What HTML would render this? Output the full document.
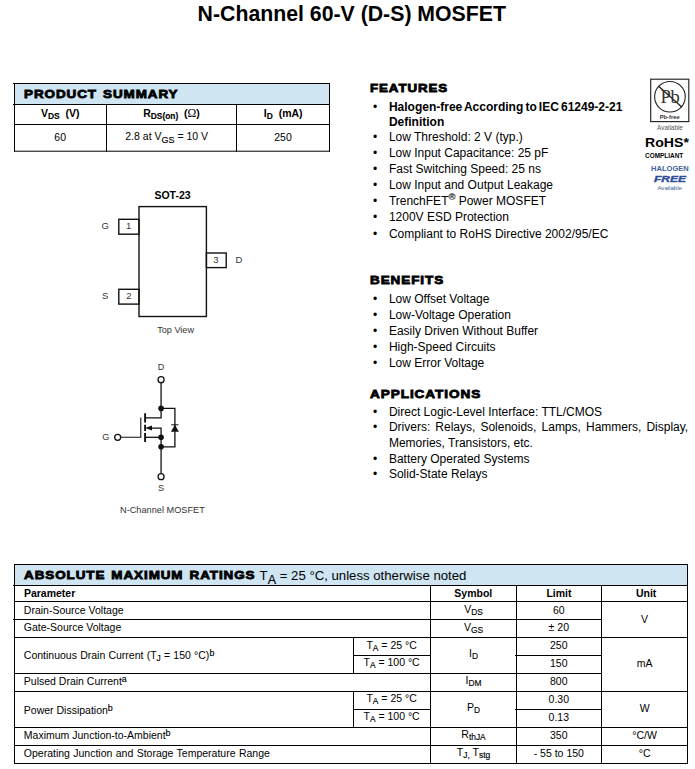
<!DOCTYPE html>
<html lang="en">
<head>
<meta charset="utf-8">
<title>N-Channel 60-V (D-S) MOSFET</title>
<style>
html,body{margin:0;padding:0;background:#fff;}
body{width:695px;height:769px;position:relative;overflow:hidden;font-family:"Liberation Sans",sans-serif;color:#000;}
#page{position:absolute;left:0;top:0;width:695px;height:769px;overflow:hidden;background:#fff;}
svg{position:absolute;left:0;top:0;}
.t{position:absolute;line-height:0;white-space:nowrap;color:#000;}
.b{font-weight:bold;}
.i{font-style:italic;}
.hv{font-weight:bold;-webkit-text-stroke:0.8px #000;letter-spacing:0.8px;word-spacing:1.2px;}
.sb{position:relative;line-height:0;-webkit-text-stroke:0.15px;}
.sf{font-family:"Liberation Serif",serif;font-weight:normal;}
.k2{color:#333;}
.k3{color:#555;}
.bl{color:#41619b;}
.bl2{color:#2f4f9a;-webkit-text-stroke:0.4px #2f4f9a;}
</style>
</head>
<body>
<div id="page">
<svg width="695" height="769" viewBox="0 0 695 769">
<g shape-rendering="crispEdges">
<rect x="15" y="84" width="314" height="20" fill="#cfe5f2"/>
<rect x="13" y="83" width="317" height="1" fill="#000"/>
<rect x="13" y="104" width="317" height="1" fill="#000"/>
<rect x="14" y="124" width="316" height="1" fill="#000"/>
<rect x="14" y="150.7" width="316" height="1" fill="#000" shape-rendering="auto"/>
<rect x="14" y="83" width="1" height="69" fill="#000"/>
<rect x="329" y="83" width="1" height="69" fill="#000"/>
<rect x="106" y="104" width="1" height="48" fill="#000"/>
<rect x="236" y="104" width="1" height="48" fill="#000"/>
<rect x="15" y="565" width="672" height="20" fill="#cfe5f2"/>
<rect x="14" y="564" width="674" height="1" fill="#000"/>
<rect x="13" y="585" width="675" height="1" fill="#000"/>
<rect x="14" y="601" width="674" height="1" fill="#000"/>
<rect x="13" y="619" width="589" height="1" fill="#000"/>
<rect x="14" y="637" width="674" height="1" fill="#000"/>
<rect x="353" y="655" width="78" height="1" fill="#000"/>
<rect x="515" y="655" width="87" height="1" fill="#000"/>
<rect x="14" y="673" width="588" height="1" fill="#000"/>
<rect x="14" y="691" width="674" height="1" fill="#000"/>
<rect x="353" y="709" width="78" height="1" fill="#000"/>
<rect x="515" y="709" width="87" height="1" fill="#000"/>
<rect x="14" y="727" width="674" height="1" fill="#000"/>
<rect x="14" y="745" width="674" height="1" fill="#000"/>
<rect x="14" y="763" width="674" height="1" fill="#000"/>
<rect x="14" y="564" width="1" height="200" fill="#000"/>
<rect x="687" y="564" width="1" height="200" fill="#000"/>
<rect x="430" y="585" width="1" height="179" fill="#000"/>
<rect x="516" y="585" width="1" height="179" fill="#000"/>
<rect x="601" y="585" width="1" height="179" fill="#000"/>
<rect x="353" y="637" width="1" height="37" fill="#000"/>
<rect x="353" y="691" width="1" height="37" fill="#000"/>
</g>
<rect x="139.0" y="206.6" width="67.40" height="109.90" fill="none" stroke="#111" stroke-width="1.4"/>
<rect x="118.8" y="219.3" width="20.20" height="14.90" fill="none" stroke="#111" stroke-width="1.4"/>
<rect x="118.8" y="289.3" width="20.20" height="14.80" fill="none" stroke="#111" stroke-width="1.4"/>
<rect x="206.4" y="253.0" width="19.80" height="14.60" fill="none" stroke="#111" stroke-width="1.4"/>
<g stroke="#111" stroke-width="1.3" fill="none" stroke-linecap="butt">
<circle cx="161.08" cy="379.7" r="3.0" fill="#fff"/>
<circle cx="161.08" cy="476.7" r="3.0" fill="#fff"/>
<circle cx="117.7" cy="437.3" r="3.0" fill="#fff"/>
<path d="M161.08 382.7V417.9H145.1"/>
<path d="M161.08 408.4H174.9V446.8H161.08"/>
<path d="M161.08 473.7V437.3"/>
<path d="M145.1 437.3H161.08"/>
<path d="M150 428.1H161.08V437.3"/>
<path d="M120.7 437.3H140.8V417.6" stroke-width="1.1"/>
<path d="M171.2 424.8H178.5" stroke-width="1.0"/>
<path d="M145.1 413.3V422.5M145.1 424.8V430.9M145.1 433V442" stroke-width="1.9"/>
</g>
<g fill="#111">
<circle cx="161.08" cy="408.4" r="2.8"/><circle cx="161.08" cy="437.3" r="2.8"/><circle cx="161.08" cy="446.8" r="2.8"/>
<path d="M174.9 424.8L178.9 431.8H170.9Z"/>
<path d="M145.0 428.1L152.0 425.6V430.6Z"/>
</g>
<rect x="650.7" y="79.2" width="38.1" height="42.4" fill="none" stroke="#222" stroke-width="1.15"/>
<circle cx="669.95" cy="96.75" r="15.3" fill="none" stroke="#222" stroke-width="1.1"/>
<line x1="658.6" y1="86.3" x2="682.0" y2="107.3" stroke="#222" stroke-width="1.35"/>
</svg>
<div class="t b" style="left:351.80px;top:14px;font-size:21.28px;transform:translateX(-50%);">N-Channel 60-V (D-S) MOSFET</div>
<div class="t hv" style="left:24.00px;top:94px;font-size:11.5px;transform-origin:0 0;transform:scaleX(1.168);">PRODUCT SUMMARY</div>
<div class="t b" style="left:60.20px;top:113px;font-size:10.5px;transform:translateX(-50%);">V<span class="sb" style="font-size:0.8em;top:0.225em">DS</span>&nbsp; (V)</div>
<div class="t b" style="left:171.50px;top:113px;font-size:10.5px;transform:translateX(-50%);">R<span class="sb" style="font-size:0.8em;top:0.225em">DS(on)</span>&nbsp; (<span class="sf" style="font-size:1.12em">Ω</span>)</div>
<div class="t b" style="left:283.20px;top:113px;font-size:10.5px;transform:translateX(-50%);">I<span class="sb" style="font-size:0.8em;top:0.225em">D</span>&nbsp; (mA)</div>
<div class="t" style="left:60.20px;top:137px;font-size:10.5px;transform:translateX(-50%);">60</div>
<div class="t" style="left:166.70px;top:136px;font-size:10.5px;transform:translateX(-50%);">2.8 at V<span class="sb" style="font-size:0.86em;top:0.314em">GS</span> = 10 V</div>
<div class="t" style="left:283.00px;top:137px;font-size:10.5px;transform:translateX(-50%);">250</div>
<div class="t hv" style="left:370.40px;top:88px;font-size:11.5px;transform-origin:0 0;transform:scaleX(1.157);">FEATURES</div>
<div class="t" style="left:375.10px;top:107px;font-size:12px;transform:translateX(-50%);">•</div>
<div class="t b" style="left:388.90px;top:107px;font-size:12px;word-spacing:-1.2px;">Halogen-free According to IEC 61249-2-21</div>
<div class="t b" style="left:388.90px;top:122px;font-size:12px;">Definition</div>
<div class="t" style="left:375.10px;top:137px;font-size:12px;transform:translateX(-50%);">•</div>
<div class="t" style="left:388.90px;top:137px;font-size:12px;">Low Threshold: 2 V (typ.)</div>
<div class="t" style="left:375.10px;top:153px;font-size:12px;transform:translateX(-50%);">•</div>
<div class="t" style="left:388.90px;top:153px;font-size:12px;">Low Input Capacitance: 25 pF</div>
<div class="t" style="left:375.10px;top:169px;font-size:12px;transform:translateX(-50%);">•</div>
<div class="t" style="left:388.90px;top:169px;font-size:12px;">Fast Switching Speed: 25 ns</div>
<div class="t" style="left:375.10px;top:185px;font-size:12px;transform:translateX(-50%);">•</div>
<div class="t" style="left:388.90px;top:185px;font-size:12px;">Low Input and Output Leakage</div>
<div class="t" style="left:375.10px;top:201px;font-size:12px;transform:translateX(-50%);">•</div>
<div class="t" style="left:388.90px;top:201px;font-size:12px;">TrenchFET<span class="sb" style="font-size:0.78em;top:-0.487em">®</span> Power MOSFET</div>
<div class="t" style="left:375.10px;top:217px;font-size:12px;transform:translateX(-50%);">•</div>
<div class="t" style="left:388.90px;top:217px;font-size:12px;">1200V ESD Protection</div>
<div class="t" style="left:375.10px;top:234px;font-size:12px;transform:translateX(-50%);">•</div>
<div class="t" style="left:388.90px;top:234px;font-size:12px;">Compliant to RoHS Directive 2002/95/EC</div>
<div class="t hv" style="left:370.40px;top:280px;font-size:11.5px;transform-origin:0 0;transform:scaleX(1.171);">BENEFITS</div>
<div class="t" style="left:375.10px;top:299px;font-size:12px;transform:translateX(-50%);">•</div>
<div class="t" style="left:388.90px;top:299px;font-size:12px;">Low Offset Voltage</div>
<div class="t" style="left:375.10px;top:315px;font-size:12px;transform:translateX(-50%);">•</div>
<div class="t" style="left:388.90px;top:315px;font-size:12px;">Low-Voltage Operation</div>
<div class="t" style="left:375.10px;top:331px;font-size:12px;transform:translateX(-50%);">•</div>
<div class="t" style="left:388.90px;top:331px;font-size:12px;">Easily Driven Without Buffer</div>
<div class="t" style="left:375.10px;top:347px;font-size:12px;transform:translateX(-50%);">•</div>
<div class="t" style="left:388.90px;top:347px;font-size:12px;">High-Speed Circuits</div>
<div class="t" style="left:375.10px;top:363px;font-size:12px;transform:translateX(-50%);">•</div>
<div class="t" style="left:388.90px;top:363px;font-size:12px;">Low Error Voltage</div>
<div class="t hv" style="left:370.40px;top:394px;font-size:11.5px;transform-origin:0 0;transform:scaleX(1.178);">APPLICATIONS</div>
<div class="t" style="left:375.10px;top:412px;font-size:12px;transform:translateX(-50%);">•</div>
<div class="t" style="left:388.90px;top:412px;font-size:12px;">Direct Logic-Level Interface: TTL/CMOS</div>
<div class="t" style="left:375.10px;top:427px;font-size:12px;transform:translateX(-50%);">•</div>
<div class="t" style="left:388.90px;top:427px;font-size:12px;word-spacing:1.75px;">Drivers: Relays, Solenoids, Lamps, Hammers, Display,</div>
<div class="t" style="left:388.90px;top:443px;font-size:12px;">Memories, Transistors, etc.</div>
<div class="t" style="left:375.10px;top:459px;font-size:12px;transform:translateX(-50%);">•</div>
<div class="t" style="left:388.90px;top:459px;font-size:12px;">Battery Operated Systems</div>
<div class="t" style="left:375.10px;top:474px;font-size:12px;transform:translateX(-50%);">•</div>
<div class="t" style="left:388.90px;top:474px;font-size:12px;">Solid-State Relays</div>
<div class="t k2" style="left:669.90px;top:97px;font-size:18.5px;transform:translateX(-50%);font-family:'Liberation Serif',serif;letter-spacing:-0.5px;">Pb</div>
<div class="t k2 b" style="left:669.70px;top:117px;font-size:5.8px;transform:translateX(-50%);">Pb-free</div>
<div class="t k3" style="left:670.00px;top:128px;font-size:6.4px;transform:translateX(-50%);">Available</div>
<div class="t b" style="left:645.10px;top:143px;font-size:13px;transform-origin:0 0;transform:scaleX(1.085);">RoHS*</div>
<div class="t b" style="left:645.10px;top:156px;font-size:7.2px;transform-origin:0 0;transform:scaleX(0.895);">COMPLIANT</div>
<div class="t b bl" style="left:651.00px;top:169px;font-size:7.1px;transform-origin:0 0;transform:scaleX(1.065);">HALOGEN</div>
<div class="t b i bl2" style="left:653.90px;top:179px;font-size:9.4px;transform-origin:0 0;transform:scaleX(1.28);">FREE</div>
<div class="t bl" style="left:669.70px;top:188px;font-size:6.1px;transform:translateX(-50%);">Available</div>
<div class="t b" style="left:172.50px;top:195px;font-size:10.5px;transform:translateX(-50%);">SOT-23</div>
<div class="t k2" style="left:101.50px;top:226px;font-size:9.5px;">G</div>
<div class="t k2" style="left:128.70px;top:226px;font-size:9.5px;transform:translateX(-50%);">1</div>
<div class="t k2" style="left:102.00px;top:296px;font-size:9.5px;">S</div>
<div class="t k2" style="left:129.00px;top:296px;font-size:9.5px;transform:translateX(-50%);">2</div>
<div class="t k2" style="left:215.80px;top:260px;font-size:9.5px;transform:translateX(-50%);">3</div>
<div class="t k2" style="left:235.60px;top:260px;font-size:9.5px;">D</div>
<div class="t k2" style="left:175.60px;top:330px;font-size:9.1px;transform:translateX(-50%);">Top View</div>
<div class="t k2" style="left:161.05px;top:367px;font-size:9.1px;transform:translateX(-50%);">D</div>
<div class="t k2" style="left:161.00px;top:488px;font-size:9.1px;transform:translateX(-50%);">S</div>
<div class="t k2" style="left:102.20px;top:437px;font-size:9.1px;">G</div>
<div class="t k2" style="left:162.40px;top:510px;font-size:9.2px;transform:translateX(-50%);">N-Channel MOSFET</div>
<div class="t hv" style="left:24.00px;top:575px;font-size:11.5px;transform-origin:0 0;transform:scaleX(1.167);">ABSOLUTE MAXIMUM RATINGS</div>
<div class="t" style="left:259.60px;top:576px;font-size:13.2px;">T<span class="sb" style="font-size:0.95em;top:0.316em">A</span> = 25 °C, unless otherwise noted</div>
<div class="t b" style="left:23.90px;top:593px;font-size:10.5px;">Parameter</div>
<div class="t b" style="left:473.30px;top:593px;font-size:10.5px;transform:translateX(-50%);">Symbol</div>
<div class="t b" style="left:559.00px;top:593px;font-size:10.5px;transform:translateX(-50%);">Limit</div>
<div class="t b" style="left:646.10px;top:593px;font-size:10.5px;transform:translateX(-50%);">Unit</div>
<div class="t" style="left:23.80px;top:610px;font-size:10.5px;">Drain-Source Voltage</div>
<div class="t" style="left:23.80px;top:627px;font-size:10.5px;">Gate-Source Voltage</div>
<div class="t" style="left:23.80px;top:655px;font-size:10.5px;word-spacing:0.3px;">Continuous Drain Current (T<span class="sb" style="font-size:0.8em;top:0.225em">J</span> = 150 °C)<span class="sb" style="font-size:0.85em;top:-0.353em">b</span></div>
<div class="t" style="left:23.80px;top:681px;font-size:10.5px;">Pulsed Drain Current<span class="sb" style="font-size:0.85em;top:-0.353em">a</span></div>
<div class="t" style="left:23.80px;top:710px;font-size:10.5px;">Power Dissipation<span class="sb" style="font-size:0.85em;top:-0.353em">b</span></div>
<div class="t" style="left:23.80px;top:735px;font-size:10.5px;">Maximum Junction-to-Ambient<span class="sb" style="font-size:0.85em;top:-0.353em">b</span></div>
<div class="t" style="left:23.80px;top:753px;font-size:10.5px;word-spacing:0.45px;">Operating Junction and Storage Temperature Range</div>
<div class="t" style="left:391.60px;top:645px;font-size:10.5px;transform:translateX(-50%);">T<span class="sb" style="font-size:0.8em;top:0.225em">A</span> = 25 °C</div>
<div class="t" style="left:391.60px;top:662px;font-size:10.5px;transform:translateX(-50%);">T<span class="sb" style="font-size:0.8em;top:0.225em">A</span> = 100 °C</div>
<div class="t" style="left:391.60px;top:698px;font-size:10.5px;transform:translateX(-50%);">T<span class="sb" style="font-size:0.8em;top:0.225em">A</span> = 25 °C</div>
<div class="t" style="left:391.60px;top:716px;font-size:10.5px;transform:translateX(-50%);">T<span class="sb" style="font-size:0.8em;top:0.225em">A</span> = 100 °C</div>
<div class="t" style="left:473.50px;top:609px;font-size:10.5px;transform:translateX(-50%);">V<span class="sb" style="font-size:0.8em;top:0.225em">DS</span></div>
<div class="t" style="left:473.50px;top:627px;font-size:10.5px;transform:translateX(-50%);">V<span class="sb" style="font-size:0.8em;top:0.225em">GS</span></div>
<div class="t" style="left:473.50px;top:653px;font-size:10.5px;transform:translateX(-50%);">I<span class="sb" style="font-size:0.8em;top:0.225em">D</span></div>
<div class="t" style="left:473.50px;top:680px;font-size:10.5px;transform:translateX(-50%);">I<span class="sb" style="font-size:0.8em;top:0.225em">DM</span></div>
<div class="t" style="left:473.50px;top:707px;font-size:10.5px;transform:translateX(-50%);">P<span class="sb" style="font-size:0.8em;top:0.225em">D</span></div>
<div class="t" style="left:473.50px;top:734px;font-size:10.5px;transform:translateX(-50%);">R<span class="sb" style="font-size:0.8em;top:0.225em">thJA</span></div>
<div class="t" style="left:473.50px;top:752px;font-size:10.5px;transform:translateX(-50%);">T<span class="sb" style="font-size:0.8em;top:0.225em">J,</span> T<span class="sb" style="font-size:0.8em;top:0.225em">stg</span></div>
<div class="t" style="left:558.80px;top:610px;font-size:10.5px;transform:translateX(-50%);">60</div>
<div class="t" style="left:558.80px;top:627px;font-size:10.5px;transform:translateX(-50%);">± 20</div>
<div class="t" style="left:558.80px;top:645px;font-size:10.5px;transform:translateX(-50%);">250</div>
<div class="t" style="left:558.80px;top:663px;font-size:10.5px;transform:translateX(-50%);">150</div>
<div class="t" style="left:558.80px;top:681px;font-size:10.5px;transform:translateX(-50%);">800</div>
<div class="t" style="left:558.80px;top:699px;font-size:10.5px;transform:translateX(-50%);">0.30</div>
<div class="t" style="left:558.80px;top:717px;font-size:10.5px;transform:translateX(-50%);">0.13</div>
<div class="t" style="left:558.80px;top:735px;font-size:10.5px;transform:translateX(-50%);">350</div>
<div class="t" style="left:558.80px;top:753px;font-size:10.5px;transform:translateX(-50%);">- 55 to 150</div>
<div class="t" style="left:644.60px;top:619px;font-size:10.5px;transform:translateX(-50%);">V</div>
<div class="t" style="left:644.60px;top:663px;font-size:10.5px;transform:translateX(-50%);">mA</div>
<div class="t" style="left:644.60px;top:708px;font-size:10.5px;transform:translateX(-50%);">W</div>
<div class="t" style="left:644.60px;top:735px;font-size:10.5px;transform:translateX(-50%);">°C/W</div>
<div class="t" style="left:644.60px;top:753px;font-size:10.5px;transform:translateX(-50%);">°C</div>
</div>
</body>
</html>
